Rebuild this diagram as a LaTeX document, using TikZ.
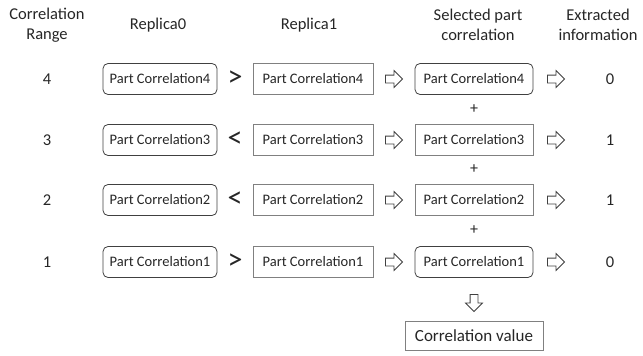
\documentclass[tikz,border=0pt]{standalone}
\usepackage{fontspec}
\setmainfont{Carlito}
\usepackage{tikz}
\usetikzlibrary{shapes.arrows}

\begin{document}
\begin{tikzpicture}[x=1pt,y=-1pt,
  txt/.style={text=black!85,font=\fontsize{16.5}{20}\selectfont,align=center},
  rbox/.style={draw=black!75,line width=0.8pt,rounded corners=5pt,minimum width=114pt,minimum height=31pt,inner sep=2pt,text=black!85,font=\fontsize{14.5}{16}\selectfont},
  sbox/.style={draw=black!50,line width=0.8pt,minimum width=120pt,minimum height=31pt,inner sep=2pt,text=black!85,font=\fontsize{14.5}{16}\selectfont},
  cmp/.style={text=black!85,font=\fontsize{30}{30}\selectfont},
  hollow/.style={single arrow,draw=black!75,line width=0.8pt,inner sep=3.5pt,single arrow head extend=4.5pt,minimum height=17pt},
  plus/.style={text=black!85,font=\fontsize{16}{16}\selectfont}]
\useasboundingbox (0,0) rectangle (643,356);
% headers
\node[txt] (hrange) at (47,25) {Correlation\\Range};
\node[txt] (hrep0) at (158,25) {Replica0};
\node[txt] (hrep1) at (309,25) {Replica1};
\node[txt] (hsel) at (478,25) {Selected part\\correlation};
\node[txt] (hinfo) at (598,25) {Extracted\\information};
% row 4
\node[txt] (r4) at (47,79) {4};
\node[rbox] (a4) at (160,79) {Part Correlation4};
\node[cmp] (c4) at (235,79) {>};
\node[sbox] (b4) at (313,79) {Part Correlation4};
\node[hollow] (p4) at (392,79) {};
\node[rbox,minimum width=118pt] (s4) at (474,79) {Part Correlation4};
\node[hollow] (q4) at (554,79) {};
\node[txt] (v4) at (610,79) {0};
\node[plus] (plus4) at (474,109) {+};
% row 3
\node[txt] (r3) at (47,140) {3};
\node[rbox] (a3) at (160,140) {Part Correlation3};
\node[cmp] (c3) at (235,140) {<};
\node[sbox] (b3) at (313,140) {Part Correlation3};
\node[hollow] (p3) at (392,140) {};
\node[sbox,minimum width=118pt] (s3) at (474,140) {Part Correlation3};
\node[hollow] (q3) at (554,140) {};
\node[txt] (v3) at (610,140) {1};
\node[plus] (plus3) at (474,169) {+};
% row 2
\node[txt] (r2) at (47,200) {2};
\node[rbox] (a2) at (160,200) {Part Correlation2};
\node[cmp] (c2) at (235,200) {<};
\node[sbox] (b2) at (313,200) {Part Correlation2};
\node[hollow] (p2) at (392,200) {};
\node[sbox,minimum width=118pt] (s2) at (474,200) {Part Correlation2};
\node[hollow] (q2) at (554,200) {};
\node[txt] (v2) at (610,200) {1};
\node[plus] (plus2) at (474,230) {+};
% row 1
\node[txt] (r1) at (47,262) {1};
\node[rbox] (a1) at (160,262) {Part Correlation1};
\node[cmp] (c1) at (235,262) {>};
\node[sbox] (b1) at (313,262) {Part Correlation1};
\node[hollow] (p1) at (392,262) {};
\node[rbox,minimum width=118pt] (s1) at (474,262) {Part Correlation1};
\node[hollow] (q1) at (554,262) {};
\node[txt] (v1) at (610,262) {0};
% total
\node[hollow,shape border rotate=270] (down) at (474,301) {};
\node[sbox,minimum width=138pt,minimum height=29pt,font=\fontsize{17}{18}\selectfont] (total) at (474,336) {Correlation value};
\end{tikzpicture}
\end{document}
